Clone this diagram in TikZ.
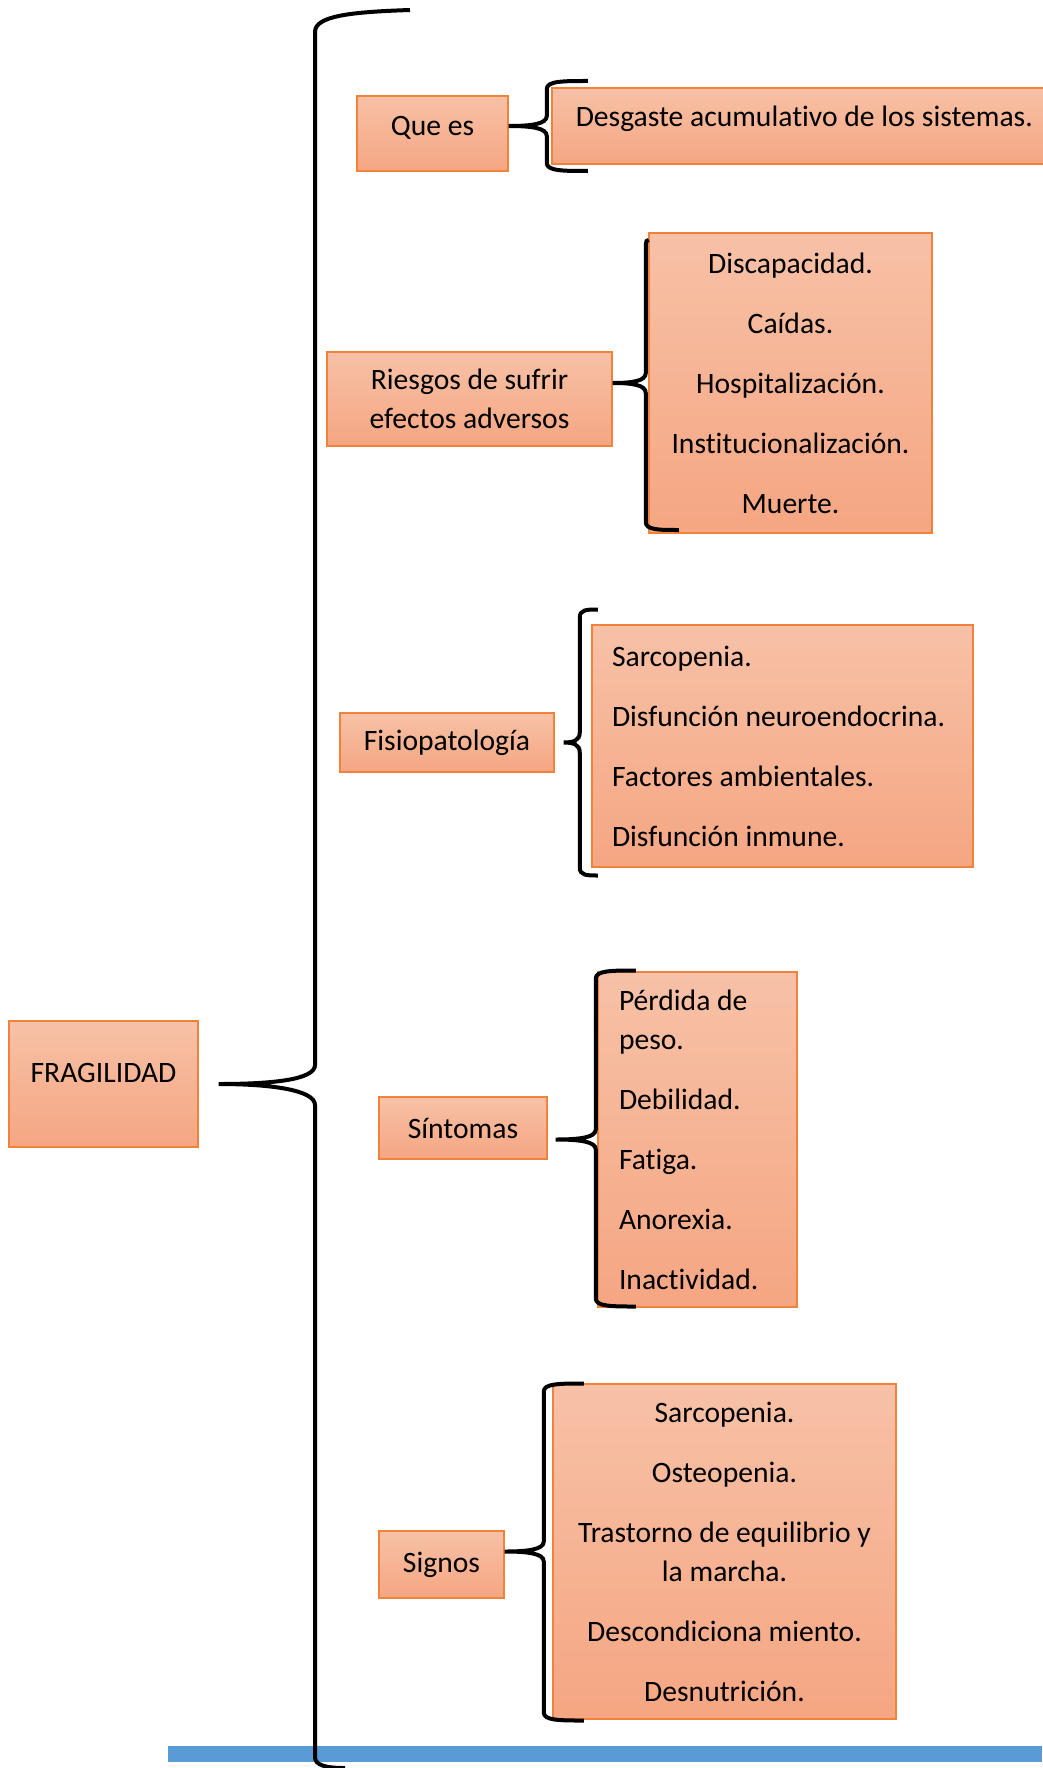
\documentclass[tikz,border=0pt]{standalone}
\usepackage{fontspec}
\setmainfont{Carlito}[Ligatures={NoCommon}]
\usetikzlibrary{calc}

\definecolor{boxtop}{RGB}{247,193,167}
\definecolor{boxbot}{RGB}{245,166,130}
\definecolor{boxline}{RGB}{240,130,60}
\definecolor{barblue}{RGB}{91,155,213}

\tikzset{
  box/.style={draw=boxline, line width=1.5pt, top color=boxtop, bottom color=boxbot,
    inner sep=0pt, font=\fontsize{29.6}{39}\selectfont},
  leftlist/.style={align=left, execute at begin node={\spaceskip=0pt\xspaceskip=0pt\relax}},
  brace/.style={line width=4pt}
}

% curly brace: tip, spine distance, reach up, reach down, upper arm, lower arm
\newcommand{\bracelink}[6]{%
  \draw[brace] ($(#1)+(#2+#5,-#3)$)
    .. controls +(-0.6*#5,0) and +(0,-8) .. ($(#1)+(#2,-#3+8)$)
    -- ($(#1)+(#2,-10)$)
    .. controls +(0,8) and +(0.6*#2,0) .. (#1)
    .. controls +(0.6*#2,0) and +(0,-8) .. ($(#1)+(#2,10)$)
    -- ($(#1)+(#2,#4-8)$)
    .. controls +(0,8) and +(-0.6*#6,0) .. ($(#1)+(#2+#6,#4)$);
}

\begin{document}
\begin{tikzpicture}[x=1pt,y=-1pt]
  \useasboundingbox (0,0) rectangle (1042,1768);
  % bottom bar
  \fill[barblue] (168,1746) rectangle (1042,1762);
  % main topic
  \node[box, minimum width=189, minimum height=126] at (103.5,1084) (frag) {\raisebox{2pt}[0pt][0pt]{FRAGILIDAD}};
  % sub topics
  \node[box, minimum width=151, minimum height=75] at (432.5,133.5) (que) {\raisebox{-2pt}[0pt][0pt]{Que es}};
  \node[box, minimum width=285, minimum height=94, align=center] at (469.5,399) (ries) {Riesgos de sufrir\\efectos adversos};
  \node[box, minimum width=214, minimum height=59] at (447,742.5) (fisio) {Fisiopatología};
  \node[box, minimum width=168, minimum height=62] at (463,1128) (sint) {Síntomas};
  \node[box, minimum width=125, minimum height=67] at (441.5,1564.5) (sig) {Signos};
  % details
  \node[box, leftlist, anchor=west, inner xsep=24pt, text width=470, minimum height=76] at (551,126) (desg) {\raisebox{-1pt}[0pt][0pt]{Desgaste acumulativo de los sistemas.}};
  \node[box, minimum width=283, minimum height=300, align=center] at (790.5,383) (rieslist)
    {Discapacidad.\\[21pt]Caídas.\\[21pt]Hospitalización.\\[21pt]Institucionalización.\\[21pt]Muerte.};
  \node[box, leftlist, inner xsep=20pt, text width=341, minimum height=242] at (782.5,746) (fisiolist)
    {Sarcopenia.\\[21pt]Disfunción neuroendocrina.\\[21pt]Factores ambientales.\\[21pt]Disfunción inmune.};
  \node[box, leftlist, inner xsep=21pt, text width=157, minimum height=335] at (697.5,1139.5) (sintlist)
    {Pérdida de\\peso.\\[21pt]Debilidad.\\[21pt]Fatiga.\\[21pt]Anorexia.\\[21pt]Inactividad.};
  \node[box, minimum width=343, minimum height=335, align=center] at (724.5,1551.5) (siglist)
    {Sarcopenia.\\[21pt]Osteopenia.\\[21pt]Trastorno de equilibrio y\\la marcha.\\[21pt]Descondiciona miento.\\[21pt]Desnutrición.};
  % brace tips
  \coordinate (t0) at ($(frag.east)+(20,0)$);
  \coordinate (t1) at (que.east |- desg.west);
  \coordinate (t2) at (ries.east |- rieslist.west);
  \coordinate (t3) at ($(fisio.east)+(9,0)$);
  \coordinate (t4) at ($(sint.east |- sintlist.west)+(8,0)$);
  \coordinate (t5) at (sig.east |- siglist.west);
  \coordinate (bigtop) at (410,10);
  \coordinate (bigbot) at (345,1768);
  % big brace
  \draw[brace] (bigtop) .. controls +(-60,2) and +(0,-16) .. (315,32)
    -- (315,1065) .. controls +(0,15) and +(52,0) .. (t0)
    .. controls +(52,0) and +(0,-15) .. (315,1105)
    -- (315,1757) .. controls +(0,8) and +(-20,0) .. (bigbot);
  % small braces
  \bracelink{t1}{38}{45}{45}{41}{41}
  \bracelink{t2}{33}{143}{147}{3}{33}
  \bracelink{t3}{16}{133}{133}{18}{18}
  \bracelink{t4}{40}{169}{167}{40}{40}
  \bracelink{t5}{39}{168}{169}{40}{40}
\end{tikzpicture}
\end{document}
